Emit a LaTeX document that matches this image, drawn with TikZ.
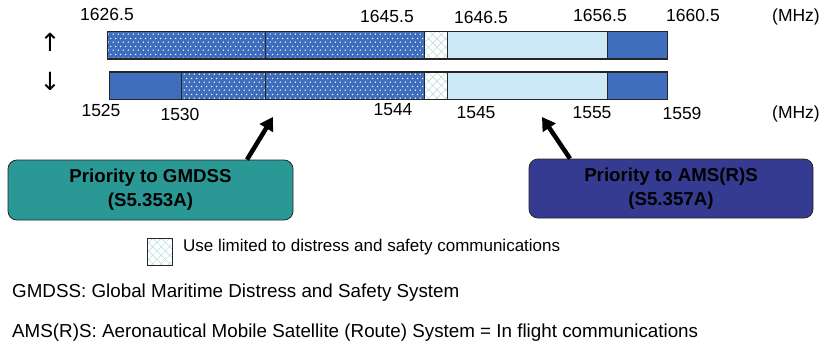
\documentclass[tikz,border=0pt]{standalone}
\usepackage{fontspec}
\setmainfont{Liberation Sans}
\newfontfamily\symfont{DejaVu Sans}
\usetikzlibrary{patterns,patterns.meta,arrows.meta}
\definecolor{dkblue}{HTML}{3F6FBC}
\definecolor{ltblue}{HTML}{CDE8F7}
\definecolor{tealbox}{HTML}{2A9995}
\definecolor{navybox}{HTML}{363B92}
\definecolor{hatchc}{HTML}{B5DCDC}
\definecolor{edgec}{HTML}{262626}
\pgfdeclarepatternformonly{wdots}{\pgfpointorigin}{\pgfpoint{5.4pt}{8pt}}{\pgfpoint{5.4pt}{8pt}}{%
  \pgfpathcircle{\pgfpoint{1.35pt}{2pt}}{0.8pt}%
  \pgfpathcircle{\pgfpoint{4.05pt}{6pt}}{0.8pt}%
  \pgfusepath{fill}}
\tikzset{
  seg/.style={draw=edgec, line width=1.2pt, minimum height=27.5pt, inner sep=0pt, anchor=west},
  dotseg/.style={seg, preaction={fill=dkblue}, pattern=wdots, pattern color=white},
  solidseg/.style={seg, fill=dkblue},
  lightseg/.style={seg, fill=ltblue},
  hatchseg/.style={seg, preaction={fill=white},
    preaction={pattern={Lines[angle=45,distance=6pt,line width=0.5pt]}, pattern color=hatchc},
    preaction={pattern={Lines[angle=-45,distance=6pt,line width=0.5pt]}, pattern color=hatchc}},
  lbl/.style={inner sep=0pt, font=\fontsize{17.5}{20}\selectfont},
  dirarrow/.style={inner sep=0pt, font=\fontsize{25}{26}\selectfont\symfont},
  prio/.style={rectangle, rounded corners=9pt, draw=edgec, line width=0.8pt,
    align=center, font=\fontsize{18.7}{24}\selectfont\bfseries, text=black},
  bigarrow/.style={line width=4.5pt, -{Triangle[length=13pt,width=15pt]}},
  note/.style={inner sep=0pt, anchor=base west, font=\fontsize{18.8}{22}\selectfont}
}
\begin{document}
\begin{tikzpicture}[x=1pt,y=-1pt]
\useasboundingbox (0,0) rectangle (824,340);
% top bar
\node[dotseg, minimum width=158pt] (t1) at (107,45.25) {};
\node[dotseg, minimum width=159pt] (t2) at (265,45.25) {};
\node[hatchseg, minimum width=22.5pt] (t3) at (424,45.25) {};
\node[lightseg, minimum width=160pt] (t4) at (446.5,45.25) {};
\node[solidseg, minimum width=60.5pt] (t5) at (606.5,45.25) {};
% bottom bar
\node[solidseg, minimum width=72pt] (b0) at (109,85.75) {};
\node[dotseg, minimum width=84pt] (b1) at (181,85.75) {};
\node[dotseg, minimum width=159pt] (b2) at (265,85.75) {};
\node[hatchseg, minimum width=22.5pt] (b3) at (424,85.75) {};
\node[lightseg, minimum width=160pt] (b4) at (446.5,85.75) {};
\node[solidseg, minimum width=60.5pt] (b5) at (606.5,85.75) {};
% direction arrows
\node[dirarrow] (up) at (50,42) {↑};
\node[dirarrow] (down) at (50,81) {↓};
% top labels
\node[lbl] (l16265) at (107,14) {1626.5};
\node[lbl] (l16455) at (387,16) {1645.5};
\node[lbl] (l16465) at (481,17) {1646.5};
\node[lbl] (l16565) at (600,15) {1656.5};
\node[lbl] (l16605) at (693,15) {1660.5};
\node[lbl] (mhz1) at (796,17) {(MHz)};
% bottom labels
\node[lbl] (l1525) at (101,110) {1525};
\node[lbl] (l1530) at (180,114) {1530};
\node[lbl] (l1544) at (393,110) {1544};
\node[lbl] (l1545) at (476,113) {1545};
\node[lbl] (l1555) at (592,113) {1555};
\node[lbl] (l1559) at (682,113) {1559};
\node[lbl] (mhz2) at (796,114) {(MHz)};
% priority boxes
\node[prio, fill=tealbox, minimum width=285pt, minimum height=60pt] (gbox) at (150.5,190) {Priority to GMDSS\\(S5.353A)};
\node[prio, fill=navybox, minimum width=284pt, minimum height=59pt] (nbox) at (671,188.5) {Priority to AMS(R)S\\(S5.357A)};
\coordinate (gtip) at (273,117);
\coordinate (ntip) at (542,117);
\draw[bigarrow] ([xshift=96.5pt]gbox.north) -- (gtip);
\draw[bigarrow] ([xshift=-101pt]nbox.north) -- (ntip);
% legend
\node[hatchseg, anchor=center, minimum width=25pt, minimum height=27pt, line width=1pt] (leg) at (159.5,251.5) {};
\node[inner sep=0pt, anchor=west, font=\fontsize{17}{20}\selectfont] (legtxt) at (183,247) {Use limited to distress and safety communications};
% notes
\node[note] (n1) at (12,297.5) {GMDSS: Global Maritime Distress and Safety System};
\node[note] (n2) at (12,337.5) {AMS(R)S: Aeronautical Mobile Satellite (Route) System = In flight communications};
\end{tikzpicture}
\end{document}
